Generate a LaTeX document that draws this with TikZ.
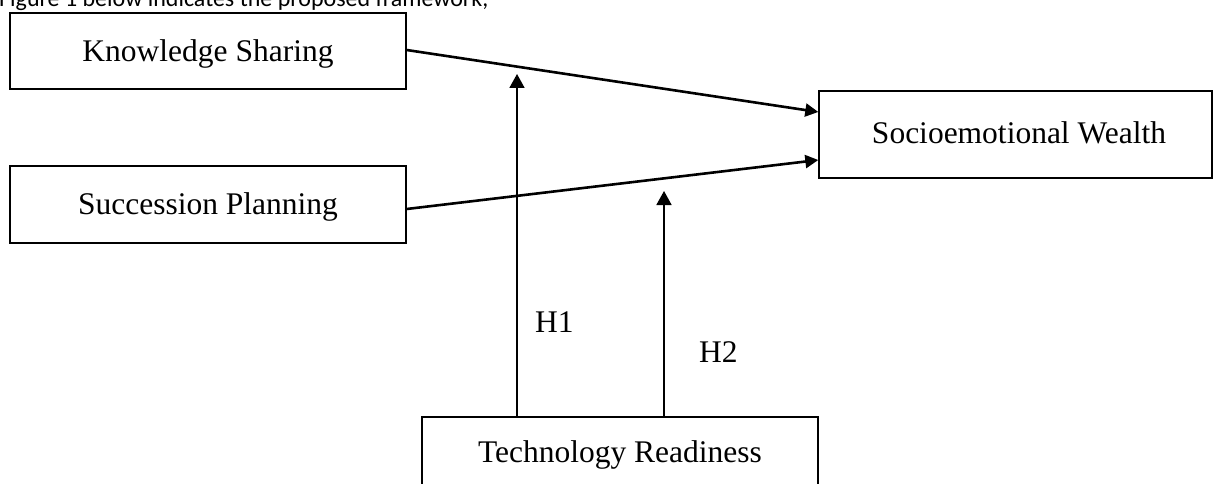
\documentclass[tikz,border=0pt]{standalone}
\usepackage{fontspec}
\setmainfont{Liberation Serif}
\newfontfamily\capfont{Carlito}
\usetikzlibrary{arrows.meta}
\begin{document}
\begin{tikzpicture}[x=1pt,y=-1pt,
  box/.style={draw=black, line width=1.4pt, rectangle, inner sep=0pt},
  lbl/.style={inner sep=0pt, font=\fontsize{31.5}{36}\selectfont, anchor=base},
  mainarrow/.style={line width=2.6pt, -{Triangle[length=13pt,width=13pt]}},
  modarrow/.style={line width=1.8pt, -{Triangle[length=14pt,width=15pt]}}]
\clip (0,0) rectangle (1213,484);
\fill[white] (0,0) rectangle (1213,484);
% heading text
\node[inner sep=0pt, anchor=base west, font=\capfont\fontsize{24}{28}\selectfont] (head) at (-1,7) {Figure 1 below indicates the proposed framework,};
% boxes
\node[box, minimum width=396pt, minimum height=76pt] (ks) at (208,51) {};
\node[lbl] (kst) at (208,62) {Knowledge Sharing};
\node[box, minimum width=396pt, minimum height=77pt] (sp) at (208,204.5) {};
\node[lbl] (spt) at (208,214) {Succession Planning};
\node[box, minimum width=393pt, minimum height=87pt] (sew) at (1015.5,134.5) {};
\node[lbl] (sewt) at (1019,143.5) {Socioemotional Wealth};
\node[box, minimum width=396pt, minimum height=87pt] (tr) at (620,460.5) {};
\node[lbl] (trt) at (620,462) {Technology Readiness};
% hypothesis labels
\node[lbl, anchor=base west] (h1) at (535,332) {H1};
\node[lbl, anchor=base west] (h2) at (699,362) {H2};
% arrow end coordinates
\coordinate (h1top) at (517,74);
\coordinate (h2top) at (664,191);
% connectors
\draw[mainarrow] ([yshift=1pt]ks.east) -- ([yshift=22.5pt]sew.west);
\draw[mainarrow] ([yshift=-4.5pt]sp.east) -- ([yshift=-25.5pt]sew.west);
\draw[modarrow] ([xshift=-103pt]tr.north) -- (h1top);
\draw[modarrow] ([xshift=44pt]tr.north) -- (h2top);
\end{tikzpicture}
\end{document}
